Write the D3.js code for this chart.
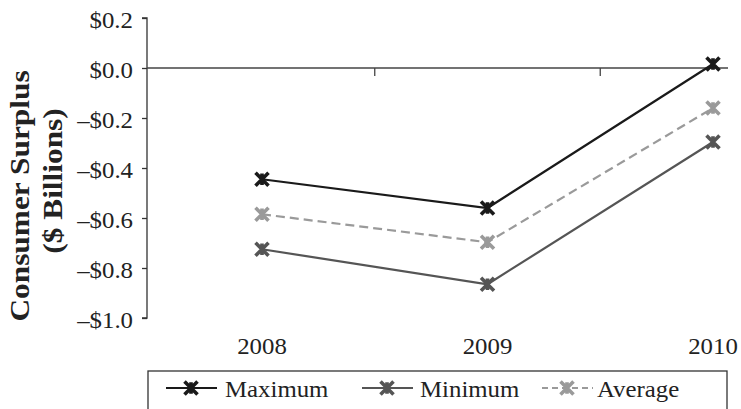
<!DOCTYPE html>
<html><head><meta charset="utf-8">
<script src="https://cdn.jsdelivr.net/npm/d3@7"></script>
<style>
html,body{margin:0;padding:0;background:#fff;}
text{font-family:"Liberation Serif","Times New Roman",serif;}
</style></head>
<body><svg id="c" width="741" height="409"></svg>
<script>
const years = ["2008","2009","2010"];
const maximum = [-0.445, -0.56, 0.016];
const minimum = [-0.725, -0.865, -0.296];
const average = [-0.585, -0.697, -0.16];
const yTicks = [0.2, 0.0, -0.2, -0.4, -0.6, -0.8, -1.0];
const seriesNames = ["Maximum","Minimum","Average"];

const svg = d3.select("#c");
const axisX0 = 147;
const FS = 23;
const SX = 1.08;
const x = d3.scaleBand().domain(years).range([149.25, 825.75]).padding(0);
const y = d3.scaleLinear().domain([-1, 0.2]).range([318, 18]);

const fmt = v => (v < 0 ? "\u2013" : "") + "$" + Math.abs(v).toFixed(1);

// y axis
const yAxis = svg.append("g").attr("transform", `translate(${axisX0},0)`)
  .call(d3.axisLeft(y).tickValues(yTicks).tickFormat(fmt).tickSize(5).tickPadding(9));
yAxis.select(".domain").attr("stroke", "#333").attr("stroke-width", 1.3).attr("d", `M-5,${y(0.2)}H0V${y(-1)}H-5`);
yAxis.selectAll(".tick line").attr("stroke", "#333").attr("stroke-width", 1.3);
yAxis.selectAll(".tick text").attr("font-size", FS).attr("fill", "#222")
  .attr("font-family", "Liberation Serif")
  .attr("x", 0).attr("dy", "0.4em")
  .attr("transform", `translate(-14,0) scale(${SX},1)`);

// zero line with category boundary ticks
const zg = svg.append("g");
zg.append("line").attr("x1", axisX0).attr("x2", 728).attr("y1", y(0)).attr("y2", y(0))
  .attr("stroke", "#444").attr("stroke-width", 1.3);
years.slice(1).forEach(yr => {
  zg.append("line").attr("x1", x(yr)).attr("x2", x(yr)).attr("y1", y(0)).attr("y2", y(0) + 8)
    .attr("stroke", "#444").attr("stroke-width", 1.3);
});

// x labels
svg.append("g").selectAll("text").data(years).join("text")
  .attr("transform", d => `translate(${x(d) + x.bandwidth() / 2},354) scale(${SX},1)`)
  .attr("text-anchor", "middle").attr("font-size", FS).attr("fill", "#222").text(d => d);

// y title
const TS = 1.12;
const tg = svg.append("text").attr("transform", `rotate(-90) scale(${TS},1)`)
  .attr("text-anchor", "middle").attr("font-weight", "bold").attr("font-size", 28).attr("fill", "#222");
tg.append("tspan").attr("x", -196 / TS).attr("y", 29).text("Consumer Surplus");
tg.append("tspan").attr("x", -181 / TS).attr("y", 62).text("($ Billions)");

const series = [
  {name: seriesNames[0], values: maximum, color: "#1a1a1a", dash: null},
  {name: seriesNames[1], values: minimum, color: "#555555", dash: null},
  {name: seriesNames[2], values: average, color: "#9a9a9a", dash: "9,5"}
];

function marker(g, cx, cy, color) {
  const s = 6.5;
  g.append("path").attr("d", `M${cx - s},${cy - s}L${cx + s},${cy + s}M${cx - s},${cy + s}L${cx + s},${cy - s}M${cx},${cy - s * 0.9}V${cy + s * 0.9}`)
    .attr("stroke", color).attr("stroke-width", 3.6).attr("fill", "none");
}

const line = d3.line().x((d, i) => x(years[i]) + x.bandwidth() / 2).y(d => y(d));
series.forEach(s => {
  svg.append("path").datum(s.values).attr("d", line).attr("fill", "none")
    .attr("stroke", s.color).attr("stroke-width", 2.2).attr("stroke-dasharray", s.dash);
});
series.forEach(s => {
  const g = svg.append("g");
  s.values.forEach((v, i) => marker(g, x(years[i]) + x.bandwidth() / 2, y(v), s.color));
});

// legend
const lg = svg.append("g");
lg.append("rect").attr("x", 148).attr("y", 371).attr("width", 579).attr("height", 60)
  .attr("fill", "none").attr("stroke", "#333").attr("stroke-width", 1.3);
const legPos = [166, 362, 542];
const legText = [225, 420, 597];
series.forEach((s, i) => {
  const lx = legPos[i];
  lg.append("line").attr("x1", lx).attr("x2", lx + 51).attr("y1", 388).attr("y2", 388)
    .attr("stroke", s.color).attr("stroke-width", 2).attr("stroke-dasharray", s.dash ? "6,4" : null);
  marker(lg, lx + 25, 388, s.color);
  lg.append("text").attr("transform", `translate(${legText[i]},397) scale(${SX},1)`)
    .attr("font-size", FS).attr("fill", "#222").text(s.name);
});
</script></body></html>
